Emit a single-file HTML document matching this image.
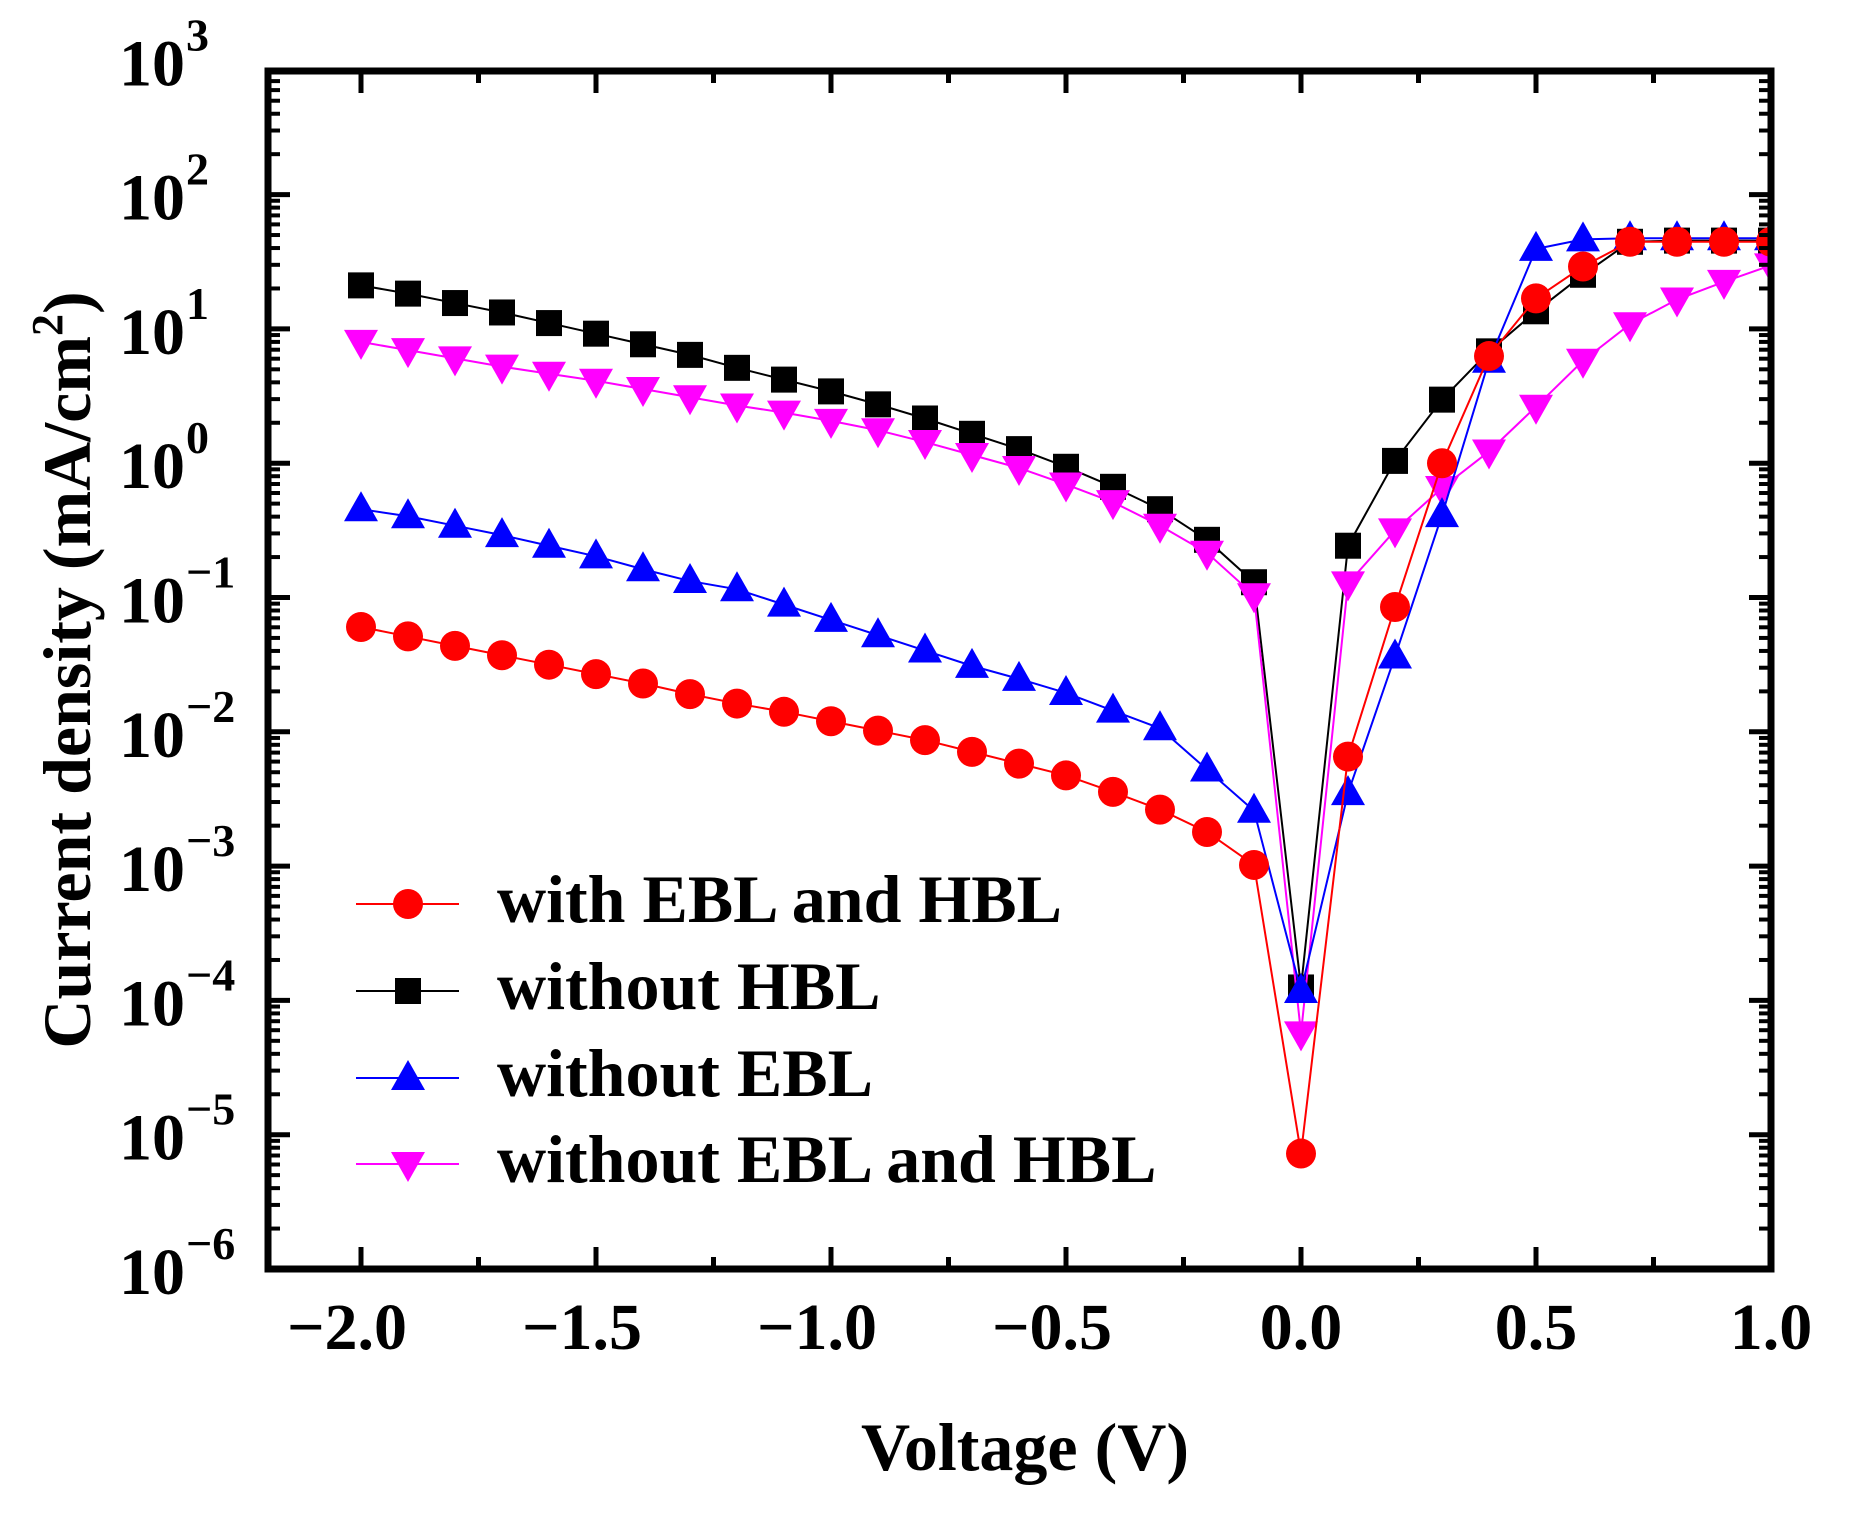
<!DOCTYPE html>
<html><head><meta charset="utf-8"><style>
html,body{margin:0;padding:0;background:#fff;}
svg{display:block;}
</style></head><body>
<svg id="s" width="1849" height="1516" xmlns="http://www.w3.org/2000/svg" font-family="'Liberation Serif', serif"></svg>
<script>
const S=document.getElementById('s');
const L=268,R=1771,T=71,B=1269,DEC=134.3;
const X=v=>1301+v*470;
const Yl=lg=>B-(lg+6)*DEC;
const Yd=d=>1.178*d+0.3;
let h='';
const V=[];for(let i=0;i<=30;i++)V.push(+(-2+i*0.1).toFixed(1));
const black=[242,249,257,265,274,283,292,301,312,322,332,343,355,368,381,396,413,432,458,494,838,463,391,339,298,264,233,205,204,204,204];
const mag=[290,297,304,311,317,323,330,337,344,350,357,365,375,386,397,411,426,446,469,505,877,495,450,414,383,345,306,275,254,239,225];
const blue=[432,438,446,454,463,472,483,493,500,513,526,539,552,565,576,588,603,618,653,688,841,673,557,437,306,211,203,202,202,202,202];
const red=[532,540,548,556,564,572,580,589,597,604,612,620,628,638,648,658,672,687,706,734,979,642,515,393,302,253,226,205,205,205,205];
function mk(type,x,y,c){
 if(type=='c')return `<circle cx="${x}" cy="${y}" r="15" fill="${c}"/>`;
 if(type=='s')return `<rect x="${x-13}" y="${y-13}" width="26" height="26" fill="${c}"/>`;
 if(type=='u')return `<polygon points="${x},${y-18} ${x-17},${y+12} ${x+17},${y+12}" fill="${c}"/>`;
 return `<polygon points="${x},${y+18} ${x-17},${y-12} ${x+17},${y-12}" fill="${c}"/>`;
}
function series(d,c,t){
 const pts=d.map((y,i)=>[X(V[i]),Yd(y)]);
 let s=`<polyline fill="none" stroke="${c}" stroke-width="2" points="${pts.map(p=>p.join(',')).join(' ')}"/>`;
 pts.forEach(p=>{ s+=mk(t,p[0],p[1],c);});
 return s;
}
h+=`<clipPath id="cp"><rect x="${L}" y="${T-20}" width="${R-L}" height="${B-T+40}"/></clipPath><g clip-path="url(#cp)">`;
h+=series(black,'#000','s');
h+=series(mag,'#ff00ff','d');
h+=series(blue,'#0000ff','u');
h+=series(red,'#ff0000','c');
h+='</g>';
h+=`<rect x="${L}" y="${T}" width="${R-L}" height="${B-T}" fill="none" stroke="#000" stroke-width="7"/>`;
for(let e=3;e>=-6;e--){
 const y=Yl(e);
 if(y>=T){
 h+=`<line x1="${L}" y1="${y}" x2="${L+22}" y2="${y}" stroke="#000" stroke-width="5"/>`;
 h+=`<line x1="${R}" y1="${y}" x2="${R-22}" y2="${y}" stroke="#000" stroke-width="5"/>`;}
 if(e>-6)for(let k=2;k<=9;k++){const yy=Yl(e-1+Math.log10(k)); if(yy<T+3)continue;
  h+=`<line x1="${L}" y1="${yy}" x2="${L+12}" y2="${yy}" stroke="#000" stroke-width="4"/>`;
  h+=`<line x1="${R}" y1="${yy}" x2="${R-12}" y2="${yy}" stroke="#000" stroke-width="4"/>`;}
 const ex=e<0?'\u2212'+(-e):''+e;
 h+=`<text x="${185}" y="${y+25}" font-size="66" font-weight="bold" text-anchor="end">10</text><text x="${186}" y="${y-10}" font-size="46" font-weight="bold">${ex}</text>`;
}
for(let v=-2;v<=1.001;v+=0.25){
 const x=X(v),maj=Math.abs(v*2-Math.round(v*2))<0.01;
 const len=maj?22:12;
 h+=`<line x1="${x}" y1="${B}" x2="${x}" y2="${B-len}" stroke="#000" stroke-width="5"/>`;
 h+=`<line x1="${x}" y1="${T}" x2="${x}" y2="${T+len}" stroke="#000" stroke-width="5"/>`;
 if(maj){const lab=(v<0?'\u2212':'')+Math.abs(v).toFixed(1);
  h+=`<text x="${x+(v<0?-14:0)}" y="1349" font-size="66" font-weight="bold" text-anchor="middle">${lab}</text>`;}
}
h+=`<text x="1025" y="1470" font-size="68" font-weight="bold" text-anchor="middle">Voltage (V)</text>`;
h+=`<text transform="translate(90,670) rotate(-90)" font-size="68" font-weight="bold" text-anchor="middle">Current density (mA/cm<tspan font-size="44" dy="-28">2</tspan><tspan dy="28">)</tspan></text>`;
const lg=[['with EBL and HBL','#ff0000','c',904],['without HBL','#000','s',991],['without EBL','#0000ff','u',1078],['without EBL and HBL','#ff00ff','d',1164]];
lg.forEach(a=>{
 h+=`<line x1="356" y1="${a[3]}" x2="459" y2="${a[3]}" stroke="${a[1]}" stroke-width="2"/>`;
 h+=mk(a[2],408,a[3],a[1]);
 h+=`<text x="497" y="${a[3]+18}" font-size="68" font-weight="bold">${a[0]}</text>`;
});
S.innerHTML=h;
</script>
</body></html>
